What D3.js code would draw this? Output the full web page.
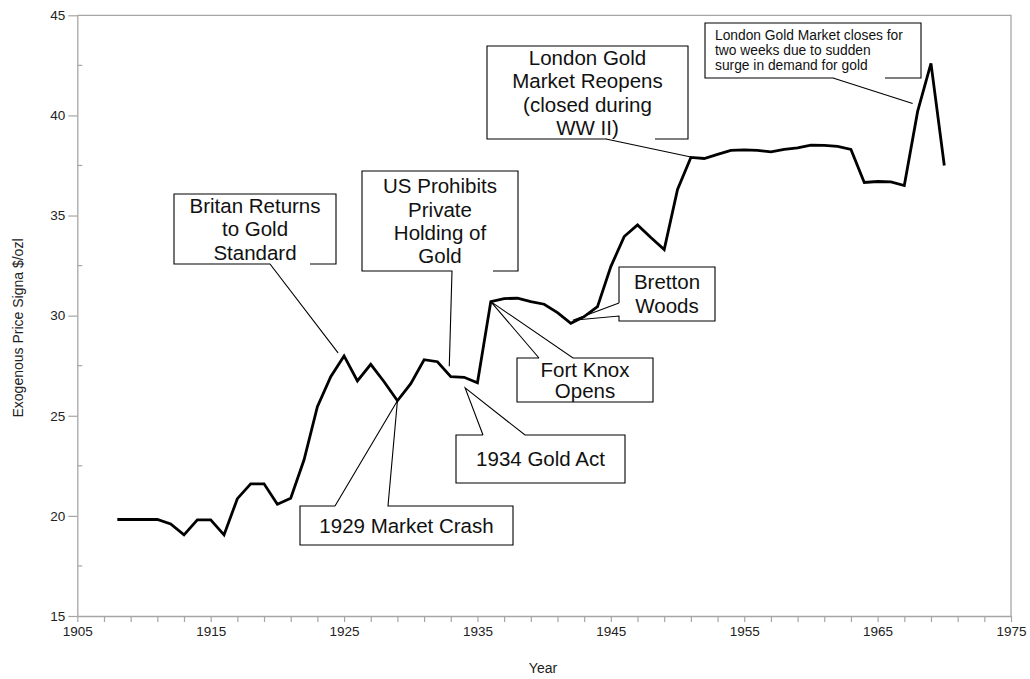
<!DOCTYPE html>
<html>
<head>
<meta charset="utf-8">
<script src="https://cdn.jsdelivr.net/npm/d3@7/dist/d3.min.js"></script>
<style>
  html, body { margin: 0; padding: 0; background: #fff; }
  svg { display: block; font-family: Arial, "Liberation Sans", sans-serif; }
</style>
</head>
<body>
<svg id="chart" width="1030" height="679"></svg>
<script>
// Exogenous gold price signal, annual values ($/ozl)
const years = [1908, 1909, 1910, 1911, 1912, 1913, 1914, 1915, 1916, 1917, 1918, 1919,
  1920, 1921, 1922, 1923, 1924, 1925, 1926, 1927, 1928, 1929, 1930, 1931, 1932, 1933,
  1934, 1935, 1936, 1937, 1938, 1939, 1940, 1941, 1942, 1943, 1944, 1945, 1946, 1947,
  1948, 1949, 1950, 1951, 1952, 1953, 1954, 1955, 1956, 1957, 1958, 1959, 1960, 1961,
  1962, 1963, 1964, 1965, 1966, 1967, 1968, 1969, 1970];
const prices = [19.82, 19.82, 19.82, 19.82, 19.6, 19.05, 19.8, 19.8, 19.05, 20.86, 21.6, 21.6,
  20.58, 20.88, 22.8, 25.45, 26.95, 27.99, 26.74, 27.57, 26.7, 25.75, 26.6, 27.8, 27.7, 26.95,
  26.92, 26.65, 30.7, 30.85, 30.87, 30.7, 30.57, 30.15, 29.62, 29.95, 30.45, 32.45, 33.95, 34.53,
  33.9, 33.3, 36.3, 37.9, 37.85, 38.05, 38.25, 38.28, 38.25, 38.18, 38.3, 38.38, 38.52, 38.5,
  38.45, 38.3, 36.65, 36.7, 36.68, 36.5, 40.2, 42.6, 37.5];

// Axis ticks
const xTickLabels = [1905, 1915, 1925, 1935, 1945, 1955, 1965, 1975];
const yTickLabels = [15, 20, 25, 30, 35, 40, 45];

// Historical events and the year each one points at
const eventYears = [1925, 1933, 1929, 1934, 1936, 1942, 1951, 1968];
const eventTexts = [
  ["Britan Returns", "to Gold", "Standard"],
  ["US Prohibits", "Private", "Holding of", "Gold"],
  ["1929 Market Crash"],
  ["1934 Gold Act"],
  ["Fort Knox", "Opens"],
  ["Bretton", "Woods"],
  ["London Gold", "Market Reopens", "(closed during", "WW II)"],
  ["London Gold Market closes for", "two weeks due to sudden", "surge in demand for gold"]
];

// Callout layout: box rectangle, side carrying the pointer, pointer base span, tip nudge
const calloutLayout = [
  { x: 174, y: 194, w: 162, h: 70, side: "bottom", b0: 270, b1: 310, dx: -6, dy: -3, size: 20.5, lh: 23.3 },
  { x: 362, y: 171, w: 156, h: 100, side: "bottom", b0: 452, b1: 493, dx: -1.5, dy: -10.5, size: 20.5, lh: 23.3 },
  { x: 300, y: 506, w: 213, h: 39, side: "top", b0: 335, b1: 388, dx: 0, dy: 0, size: 20.5, lh: 23.3 },
  { x: 456, y: 435, w: 169, h: 48, side: "top", b0: 483, b1: 525, dx: 1, dy: 10.5, size: 20.5, lh: 23.3 },
  { x: 517, y: 358, w: 136, h: 44, side: "top", b0: 539, b1: 573, dx: 0, dy: 0, size: 20.5, lh: 21.7 },
  { x: 619, y: 267, w: 96, h: 54, side: "left", b0: 303, b1: 316, dx: 2, dy: -3, size: 20.5, lh: 24 },
  { x: 487, y: 46, w: 201, h: 93, side: "bottom", b0: 606, b1: 655, dx: 0, dy: -0.5, size: 20.5, lh: 23.5 },
  { x: 705, y: 23, w: 216, h: 55, side: "bottom", b0: 833, b1: 885, dx: -5, dy: -8, size: 13.8, lh: 15, align: "left" }
];

const svg = d3.select("#chart");
const margin = { left: 77.3, right: 1011, top: 15.3, bottom: 616 };
const axisColor = "#a6a6a6";

const x = d3.scaleLinear().domain([1905, 1975]).range([margin.left, margin.right]);
const y = d3.scaleLinear().domain([15, 45]).range([margin.bottom, margin.top]);

// Plot frame (top and right edges)
svg.append("path")
  .attr("d", `M${margin.left},${margin.top}H${margin.right}V${margin.bottom}`)
  .attr("fill", "none").attr("stroke", axisColor).attr("stroke-width", 1.3);

// X axis: ticks every 2 years, labels every 10
const xAxis = svg.append("g").attr("transform", `translate(0,${margin.bottom})`)
  .call(d3.axisBottom(x).tickValues(d3.range(1905, 1976, 2))
    .tickSize(6).tickSizeOuter(0)
    .tickFormat(d => xTickLabels.includes(d) ? d : ""));
xAxis.select(".domain").attr("stroke", axisColor).attr("stroke-width", 1.3);
xAxis.selectAll(".tick line").attr("stroke", axisColor).attr("stroke-width", 1.2);
xAxis.selectAll(".tick text").attr("fill", "#222").attr("font-size", 13.5)
  .attr("font-family", "Arial, 'Liberation Sans', sans-serif").attr("y", 10).attr("dy", "0.71em");

// Y axis: labelled major ticks outward, minor ticks inward
const yAxis = svg.append("g").attr("transform", `translate(${margin.left},0)`)
  .call(d3.axisLeft(y).tickValues(yTickLabels).tickSize(9).tickSizeOuter(0).tickPadding(3));
yAxis.select(".domain").attr("stroke", axisColor).attr("stroke-width", 1.3);
yAxis.selectAll(".tick line").attr("stroke", axisColor).attr("stroke-width", 1.2);
yAxis.selectAll(".tick text").attr("fill", "#222").attr("font-size", 13.5)
  .attr("font-family", "Arial, 'Liberation Sans', sans-serif");
svg.append("g").selectAll("line")
  .data(d3.range(17.5, 45, 5))
  .join("line")
  .attr("x1", margin.left).attr("x2", margin.left + 5)
  .attr("y1", d => y(d)).attr("y2", d => y(d))
  .attr("stroke", axisColor).attr("stroke-width", 1.2);

// Axis titles
svg.append("text").attr("x", 543).attr("y", 668).attr("dy", "0.35em")
  .attr("text-anchor", "middle").attr("font-size", 14).attr("fill", "#222").text("Year");
svg.append("text").attr("transform", "translate(18,328) rotate(-90)").attr("dy", "0.35em")
  .attr("text-anchor", "middle").attr("font-size", 14).attr("fill", "#222")
  .text("Exogenous Price Signa $/ozl");

// Price line
const series = years.map((yr, i) => ({ yr, v: prices[i] }));
svg.append("path").datum(series)
  .attr("fill", "none").attr("stroke", "#000").attr("stroke-width", 2.8)
  .attr("stroke-linejoin", "miter").attr("stroke-miterlimit", 3)
  .attr("d", d3.line().x(d => x(d.yr)).y(d => y(d.v)));

// Callouts
const callouts = svg.append("g");
eventYears.forEach((yr, i) => {
  const L = calloutLayout[i];
  const v = prices[years.indexOf(yr)];
  const tx = x(yr) + L.dx, ty = y(v) + L.dy;
  const g = callouts.append("g");
  const x0 = L.x, y0 = L.y, x1 = L.x + L.w, y1 = L.y + L.h;
  g.append("rect").attr("x", x0).attr("y", y0).attr("width", L.w).attr("height", L.h)
    .attr("fill", "#fff").attr("stroke", "none");
  let outline, p0;
  if (L.side === "bottom") {
    p0 = [L.b0, y1];
    outline = `M${L.b1},${y1}H${x1}V${y0}H${x0}V${y1}H${L.b0}`;
  } else if (L.side === "top") {
    p0 = [L.b0, y0];
    outline = `M${L.b0},${y0}H${x0}V${y1}H${x1}V${y0}H${L.b1}`;
  } else {
    p0 = [x0, L.b0];
    outline = `M${x0},${L.b0}V${y0}H${x1}V${y1}H${x0}V${L.b1}`;
  }
  g.append("path").attr("d", `${outline}L${tx},${ty}L${p0[0]},${p0[1]}`)
    .attr("fill", "none").attr("stroke", "#000").attr("stroke-width", 1.1)
    .attr("stroke-linejoin", "miter");
  const lines = eventTexts[i];
  const cx = L.align === "left" ? x0 + 10 : (x0 + x1) / 2;
  const startY = (y0 + y1) / 2 - (lines.length - 1) * L.lh / 2;
  g.append("text")
    .attr("font-size", L.size).attr("fill", "#111")
    .attr("text-anchor", L.align === "left" ? "start" : "middle")
    .selectAll("tspan").data(lines).join("tspan")
    .attr("x", cx).attr("y", (d, j) => startY + j * L.lh).attr("dy", "0.36em")
    .text(d => d);
});
</script>
</body>
</html>
